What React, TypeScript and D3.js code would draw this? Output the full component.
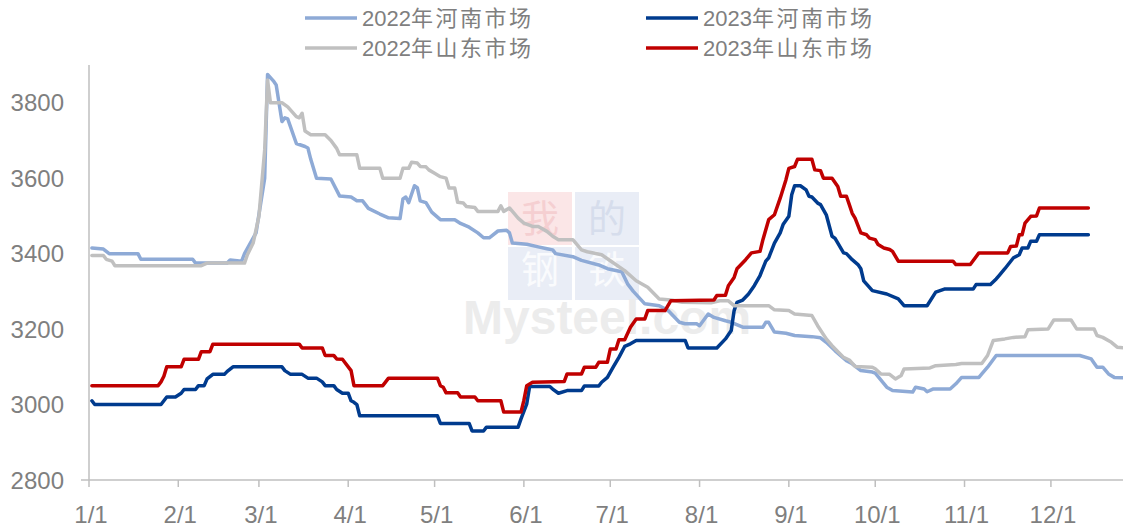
import React from "react";
import * as d3 from "d3";

type Pt = [string, number];

// 2022年河南市场
const hn2022: Pt[] = [
  ["01-02", 3415], ["01-06", 3412], ["01-08", 3400], ["01-18", 3400], ["01-19", 3385], ["02-06", 3385],
  ["02-07", 3375], ["02-18", 3375], ["02-19", 3383], ["02-23", 3380], ["02-24", 3400], ["02-28", 3455],
  ["03-03", 3600], ["03-04", 3875], ["03-06", 3858], ["03-07", 3847], ["03-09", 3750], ["03-10", 3760],
  ["03-11", 3757], ["03-14", 3692], ["03-17", 3684], ["03-18", 3680], ["03-19", 3650], ["03-21", 3600],
  ["03-26", 3598], ["03-29", 3553], ["04-02", 3550], ["04-04", 3540], ["04-06", 3540], ["04-08", 3520],
  ["04-12", 3505], ["04-15", 3495], ["04-19", 3493], ["04-20", 3545], ["04-21", 3550], ["04-22", 3535],
  ["04-24", 3580], ["04-25", 3575], ["04-26", 3540], ["04-28", 3535], ["04-30", 3510], ["05-03", 3490],
  ["05-08", 3490], ["05-10", 3480], ["05-13", 3470], ["05-16", 3455], ["05-18", 3442], ["05-20", 3442],
  ["05-23", 3460], ["05-26", 3462], ["05-27", 3455], ["05-28", 3428], ["06-02", 3425], ["06-06", 3418],
  ["06-09", 3413], ["06-11", 3410], ["06-12", 3400], ["06-18", 3392], ["06-21", 3382], ["06-27", 3370],
  ["06-30", 3360], ["07-05", 3352], ["07-07", 3320], ["07-09", 3300], ["07-13", 3267], ["07-18", 3262],
  ["07-21", 3250], ["07-25", 3218], ["07-27", 3214], ["07-31", 3214], ["08-01", 3209], ["08-04", 3240],
  ["08-06", 3231], ["08-10", 3222], ["08-12", 3218], ["08-16", 3205], ["08-23", 3205], ["08-24", 3218],
  ["08-25", 3218], ["08-27", 3192], ["08-31", 3189], ["09-03", 3183], ["09-09", 3180], ["09-12", 3177],
  ["09-14", 3165], ["09-17", 3143], ["09-21", 3116], ["09-23", 3108], ["09-26", 3090], ["09-30", 3086],
  ["10-01", 3083], ["10-05", 3046], ["10-07", 3037], ["10-14", 3033], ["10-15", 3046], ["10-18", 3041],
  ["10-19", 3034], ["10-21", 3041], ["10-27", 3041], ["10-29", 3055], ["10-31", 3072], ["11-06", 3072],
  ["11-07", 3081], ["11-09", 3099], ["11-12", 3130], ["12-11", 3130], ["12-15", 3121], ["12-17", 3099],
  ["12-19", 3099], ["12-21", 3081], ["12-23", 3072], ["12-29", 3070],
];

// 2023年河南市场
const hn2023: Pt[] = [
  ["01-02", 3010], ["01-03", 3000], ["01-26", 3000], ["01-28", 3020], ["01-31", 3020], ["02-02", 3030],
  ["02-03", 3040], ["02-07", 3040], ["02-08", 3050], ["02-10", 3050], ["02-11", 3068], ["02-13", 3080],
  ["02-17", 3080], ["02-18", 3088], ["02-20", 3100], ["03-09", 3100], ["03-10", 3090], ["03-12", 3080],
  ["03-16", 3080], ["03-18", 3070], ["03-21", 3070], ["03-23", 3060], ["03-24", 3050], ["03-27", 3050],
  ["03-28", 3040], ["03-30", 3030], ["04-01", 3030], ["04-02", 3010], ["04-03", 3006], ["04-04", 3000],
  ["04-05", 2970], ["05-02", 2970], ["05-03", 2950], ["05-13", 2950], ["05-14", 2930], ["05-18", 2930],
  ["05-19", 2940], ["05-30", 2940], ["05-31", 2962], ["06-02", 3002], ["06-03", 3048], ["06-10", 3048],
  ["06-11", 3041], ["06-13", 3030], ["06-16", 3037], ["06-21", 3037], ["06-22", 3049], ["06-27", 3049],
  ["06-28", 3059], ["06-30", 3072], ["07-02", 3099], ["07-04", 3125], ["07-06", 3154], ["07-08", 3161],
  ["07-10", 3170], ["07-27", 3170], ["07-28", 3150], ["08-07", 3150], ["08-10", 3174], ["08-12", 3196],
  ["08-13", 3249], ["08-14", 3271], ["08-16", 3277], ["08-18", 3293], ["08-20", 3315], ["08-22", 3342],
  ["08-24", 3380], ["08-25", 3389], ["08-27", 3428], ["08-29", 3455], ["08-30", 3477], ["09-01", 3499],
  ["09-02", 3556], ["09-03", 3580], ["09-05", 3580], ["09-07", 3569], ["09-08", 3552], ["09-09", 3550],
  ["09-11", 3534], ["09-12", 3530], ["09-14", 3503], ["09-16", 3446], ["09-17", 3441], ["09-20", 3402],
  ["09-21", 3400], ["09-23", 3384], ["09-25", 3371], ["09-26", 3360], ["09-27", 3328], ["09-30", 3302],
  ["10-05", 3293], ["10-09", 3280], ["10-11", 3262], ["10-19", 3262], ["10-22", 3298], ["10-25", 3306],
  ["11-04", 3306], ["11-05", 3318], ["11-10", 3318], ["11-12", 3333], ["11-13", 3342], ["11-15", 3360],
  ["11-18", 3389], ["11-20", 3397], ["11-21", 3415], ["11-23", 3415], ["11-24", 3433], ["11-26", 3433],
  ["11-27", 3450], ["12-14", 3450],
];

// 2022年山东市场
const sd2022: Pt[] = [
  ["01-02", 3395], ["01-06", 3395], ["01-07", 3385], ["01-09", 3380], ["01-10", 3368], ["02-09", 3368],
  ["02-11", 3375], ["02-24", 3375], ["02-25", 3397], ["02-27", 3428], ["03-01", 3499], ["03-03", 3675],
  ["03-04", 3860], ["03-05", 3800], ["03-09", 3800], ["03-11", 3789], ["03-14", 3763], ["03-15", 3760],
  ["03-16", 3772], ["03-17", 3725], ["03-19", 3715], ["03-24", 3715], ["03-26", 3700], ["03-28", 3679],
  ["03-29", 3662], ["04-04", 3662], ["04-05", 3626], ["04-12", 3626], ["04-13", 3600], ["04-19", 3600],
  ["04-20", 3626], ["04-22", 3626], ["04-23", 3642], ["04-25", 3640], ["04-26", 3631], ["04-28", 3630],
  ["04-29", 3622], ["05-01", 3613], ["05-03", 3604], ["05-05", 3600], ["05-06", 3574], ["05-08", 3574],
  ["05-09", 3536], ["05-11", 3534], ["05-12", 3525], ["05-15", 3522], ["05-16", 3512], ["05-23", 3512],
  ["05-24", 3527], ["05-25", 3512], ["05-27", 3521], ["05-30", 3494], ["06-01", 3481], ["06-04", 3472],
  ["06-06", 3472], ["06-09", 3459], ["06-11", 3446], ["06-13", 3437], ["06-18", 3437], ["06-21", 3410],
  ["06-23", 3405], ["06-28", 3397], ["07-01", 3381], ["07-06", 3355], ["07-10", 3328], ["07-14", 3311],
  ["07-18", 3280], ["07-22", 3277], ["07-26", 3271], ["08-05", 3270], ["08-08", 3275], ["08-11", 3275],
  ["08-13", 3262], ["08-25", 3262], ["08-27", 3251], ["09-01", 3249], ["09-03", 3240], ["09-06", 3238],
  ["09-09", 3236], ["09-11", 3209], ["09-14", 3174], ["09-16", 3156], ["09-20", 3125], ["09-22", 3118],
  ["09-24", 3101], ["09-30", 3099], ["10-01", 3095], ["10-03", 3081], ["10-06", 3080], ["10-08", 3068],
  ["10-10", 3077], ["10-11", 3094], ["10-20", 3097], ["10-22", 3103], ["10-29", 3106], ["10-31", 3109],
  ["11-07", 3109], ["11-09", 3130], ["11-11", 3170], ["11-15", 3174], ["11-18", 3178], ["11-22", 3180],
  ["11-23", 3198], ["11-30", 3200], ["12-02", 3224], ["12-08", 3224], ["12-10", 3200], ["12-16", 3200],
  ["12-17", 3183], ["12-19", 3178], ["12-22", 3165], ["12-24", 3152], ["12-29", 3148],
];

// 2023年山东市场
const sd2023: Pt[] = [
  ["01-02", 3050], ["01-25", 3050], ["01-26", 3060], ["01-27", 3075], ["01-28", 3100], ["02-02", 3100],
  ["02-03", 3120], ["02-08", 3120], ["02-09", 3140], ["02-12", 3140], ["02-13", 3160], ["03-15", 3160],
  ["03-16", 3150], ["03-23", 3150], ["03-24", 3130], ["03-27", 3130], ["03-28", 3121], ["03-30", 3120],
  ["04-02", 3090], ["04-03", 3050], ["04-13", 3050], ["04-15", 3070], ["05-02", 3070], ["05-03", 3050],
  ["05-04", 3046], ["05-05", 3031], ["05-09", 3031], ["05-10", 3020], ["05-15", 3020], ["05-16", 3010],
  ["05-24", 3010], ["05-25", 2980], ["05-31", 2980], ["06-01", 3011], ["06-02", 3050], ["06-04", 3059],
  ["06-15", 3061], ["06-16", 3081], ["06-21", 3081], ["06-22", 3099], ["06-26", 3099], ["06-27", 3112],
  ["06-30", 3112], ["07-01", 3147], ["07-03", 3147], ["07-04", 3172], ["07-06", 3172], ["07-08", 3205],
  ["07-10", 3227], ["07-13", 3227], ["07-14", 3249], ["07-20", 3249], ["07-22", 3275], ["08-06", 3277],
  ["08-07", 3289], ["08-10", 3290], ["08-11", 3315], ["08-13", 3337], ["08-14", 3360], ["08-17", 3384],
  ["08-19", 3402], ["08-22", 3406], ["08-23", 3437], ["08-25", 3490], ["08-27", 3503], ["08-29", 3547],
  ["08-31", 3596], ["09-01", 3626], ["09-03", 3631], ["09-04", 3650], ["09-09", 3650], ["09-10", 3622],
  ["09-12", 3620], ["09-13", 3600], ["09-16", 3600], ["09-18", 3578], ["09-19", 3552], ["09-21", 3552],
  ["09-22", 3530], ["09-23", 3507], ["09-24", 3494], ["09-26", 3455], ["09-28", 3450], ["09-29", 3441],
  ["10-01", 3437], ["10-02", 3424], ["10-04", 3415], ["10-06", 3411], ["10-07", 3406], ["10-09", 3380],
  ["10-28", 3380], ["10-29", 3371], ["11-03", 3371], ["11-06", 3402], ["11-16", 3402], ["11-17", 3419],
  ["11-19", 3420], ["11-20", 3450], ["11-21", 3450], ["11-22", 3481], ["11-24", 3499], ["11-26", 3500],
  ["11-27", 3521], ["12-14", 3521],
];

const seriesNames = ["2022年河南市场", "2023年河南市场", "2022年山东市场", "2023年山东市场"];
const seriesColors = ["#8eaad6", "#003b8e", "#c0c0c0", "#c00000"];
const seriesData = [hn2022, hn2023, sd2022, sd2023];

const yTicks = [2800, 3000, 3200, 3400, 3600, 3800];
const xTickLabels = ["1/1", "2/1", "3/1", "4/1", "5/1", "6/1", "7/1", "8/1", "9/1", "10/1", "11/1", "12/1"];

const FONT = "'Liberation Sans', Arial, sans-serif";
const CJK = "'Noto Sans CJK SC', sans-serif";
const GRAY = "#7f7f7f";
const AXIS = "#bfbfbf";

const parseDay = (s: string) => {
  const [m, d] = s.split("-").map(Number);
  return new Date(2023, m - 1, d);
};

const App = () => {
  const width = 1123;
  const height = 529;
  const left = 89;
  const bottom = 480;

  const x = d3
    .scaleTime()
    .domain([new Date(2023, 0, 1), new Date(2023, 11, 31)])
    .range([left, left + 364 * 2.88]);
  const y = d3.scaleLinear().domain([2800, 3900]).range([bottom, 65]);

  const line = d3
    .line<Pt>()
    .x((d) => x(parseDay(d[0])))
    .y((d) => y(d[1]));

  const legendPos = [
    { x: 305, y: 18 },
    { x: 646, y: 18 },
    { x: 305, y: 48 },
    { x: 646, y: 48 },
  ];

  return (
    <svg
      width={width}
      height={height}
      style={{ position: "absolute", left: 0, top: 0, background: "#fff" }}
    >
      {/* watermark */}
      <g>
        <rect x={508} y={192} width={64} height={53} fill="#fbe6e7" />
        <rect x={575} y={192} width={64} height={53} fill="#e9edf6" />
        <rect x={508} y={247} width={64} height={53} fill="#e9edf6" />
        <rect x={575} y={247} width={64} height={53} fill="#e9edf6" />
        <text x={540} y={232} textAnchor="middle" fontFamily={CJK} fontSize={38} fill="#f5cfd1">我</text>
        <text x={607} y={232} textAnchor="middle" fontFamily={CJK} fontSize={38} fill="#d6ddec">的</text>
        <text x={540} y={283} textAnchor="middle" fontFamily={CJK} fontSize={38} fill="#fafbfd">钢</text>
        <text x={607} y={283} textAnchor="middle" fontFamily={CJK} fontSize={38} fill="#fafbfd">铁</text>
        <text x={463} y={334} fontFamily={FONT} fontWeight="bold" fontSize={48} fill="#ececec">
          Mysteel.com
        </text>
      </g>

      {/* axes */}
      <line x1={left} x2={left} y1={65} y2={bottom} stroke={AXIS} strokeWidth={1.5} />
      <line x1={81} x2={width} y1={bottom} y2={bottom} stroke={AXIS} strokeWidth={1.5} />
      {xTickLabels.map((lab, i) => {
        const px = x(new Date(2023, i, 1));
        return (
          <g key={lab}>
            <line x1={px} x2={px} y1={bottom} y2={bottom + 7} stroke={AXIS} strokeWidth={1.5} />
            <text x={px + 2} y={523} textAnchor="middle" fontFamily={FONT} fontSize={24} fill={GRAY}>
              {lab}
            </text>
          </g>
        );
      })}
      {yTicks.map((t) => (
        <text key={t} x={64} y={y(t) + 8.5} textAnchor="end" fontFamily={FONT} fontSize={24} fill={GRAY}>
          {t}
        </text>
      ))}

      {/* series */}
      {seriesData.map((data, i) => (
        <path
          key={seriesNames[i]}
          d={line(data) ?? ""}
          fill="none"
          stroke={seriesColors[i]}
          strokeWidth={3.5}
          strokeLinejoin="round"
          strokeLinecap="round"
        />
      ))}

      {/* legend */}
      {seriesNames.map((name, i) => {
        const p = legendPos[i];
        return (
          <g key={name}>
            <line x1={p.x} x2={p.x + 52} y1={p.y} y2={p.y} stroke={seriesColors[i]} strokeWidth={3.5} />
            <text x={p.x + 57} y={p.y + 8} fontSize={22} fill={GRAY}>
              <tspan fontFamily={FONT}>{name.slice(0, 4)}</tspan>
              <tspan fontFamily={CJK} letterSpacing={2.5}>{name.slice(4)}</tspan>
            </text>
          </g>
        );
      })}
    </svg>
  );
};

export default App;
